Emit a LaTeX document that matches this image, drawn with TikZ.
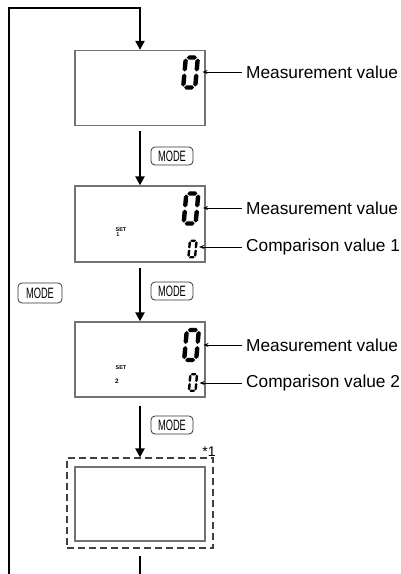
\documentclass[tikz,border=0pt]{standalone}
\usepackage{fontspec}
\setmainfont{Liberation Sans}
\newfontfamily\narrowsans[FakeStretch=0.62]{Liberation Sans}
\usetikzlibrary{arrows.meta}
\tikzset{
  lcd/.style={draw=black!55, line width=1.3pt, minimum width=130pt, minimum height=75pt, inner sep=0pt},
  modekey/.style={draw=black!80, rounded corners=4pt, line width=0.8pt, minimum width=42pt, minimum height=18pt, inner sep=0pt, font=\narrowsans\fontsize{15}{15}\selectfont},
  flow/.style={line width=2.2pt, -{Triangle[length=9pt,width=9pt]}},
  pointer/.style={line width=0.9pt, -{Stealth[length=5pt,width=4pt]}, shorten <=4pt},
  callout/.style={anchor=west, inner sep=0pt, font=\fontsize{17.3}{17.3}\selectfont},
  settag/.style={inner sep=0pt, font=\bfseries\fontsize{5.5}{5.5}\selectfont},
  digitzero/.pic={
    % top and bottom bars
    \foreach \sy in {-1,1}
      \fill[xslant=0.09] (-5,15*\sy) -- (-3,15*\sy-2.2) -- (3,15*\sy-2.2) -- (5,15*\sy) -- (3,15*\sy+2.2) -- (-3,15*\sy+2.2) -- cycle;
    % side bars
    \foreach \sx in {-1,1}
      \foreach \sy in {-1,1}
        \fill[xslant=0.09] (6*\sx,14*\sy) -- (6*\sx+2.2,12*\sy) -- (6*\sx+2.2,3*\sy) -- (6*\sx,\sy) -- (6*\sx-2.2,3*\sy) -- (6*\sx-2.2,12*\sy) -- cycle;
    \coordinate (-tip) at (12,0);
  }
}
\begin{document}
\begin{tikzpicture}[x=1pt, y=-1pt]
  \useasboundingbox (0,0) rectangle (401,574);

  % Displays (centre column)
  \node [lcd] (disp1) at (140,88) {};
  \node [lcd, minimum height=76pt] (disp2) at (140,224) {};
  \node [lcd] (disp3) at (140,359.5) {};
  \node [draw=black!75, dash pattern=on 7pt off 4pt, line width=1.2pt, minimum width=146pt, minimum height=90pt, inner sep=0pt] (outer) at (140,503) {};
  \node [lcd, minimum height=74pt] (disp4) at (140,504) {};
  \node [inner sep=0pt, font=\fontsize{14}{14}\selectfont] (note1) at (209,452) {*1};

  % Digits
  \pic (dA) at (190.5,72.5) {digitzero};
  \pic (dB) at (191,208.5) {digitzero};
  \pic [scale=0.55] (dC) at (192.5,249) {digitzero};
  \pic (dD) at (191.5,345) {digitzero};
  \pic [scale=0.55] (dE) at (193,382.5) {digitzero};

  % SET marks
  \node [settag] (set1) at (121,229.5) {SET};
  \node [settag] (num1) at (118,234.5) {1};
  \node [settag] (set2) at (121,367.5) {SET};
  \node [settag, font=\bfseries\fontsize{6.5}{6.5}\selectfont] (num2) at (117,381.5) {2};

  % Keys
  \node [modekey] (key1) at (172,156) {MODE};
  \node [modekey] (key2) at (172,291) {MODE};
  \node [modekey] (key3) at (172,425) {MODE};
  \node [modekey, minimum width=44pt, minimum height=20pt] (key0) at (40,293) {MODE};

  % Flow
  \coordinate (loopfoot) at (9,574);
  \coordinate (tailfoot) at (140,574);
  \draw [flow] (loopfoot) |- ([yshift=42pt]disp1.north) -- (disp1.north);
  \draw [flow, shorten <=5pt] (disp1.south) -- (disp2.north);
  \draw [flow, shorten <=5pt] (disp2.south) -- (disp3.north);
  \draw [flow, shorten <=8pt] (disp3.south) -- (outer.north);
  \draw [line width=2.2pt, shorten <=7pt] (outer.south) -- (tailfoot);

  % Labels
  \node [callout] (lblA) at (246,72) {Measurement value};
  \node [callout] (lblB) at (246,208) {Measurement value};
  \node [callout] (lblC) at (246,247) {Comparison value 1};
  \node [callout] (lblD) at (246,345) {Measurement value};
  \node [callout] (lblE) at (246,383) {Comparison value 2};
  \draw [pointer] (lblA.west) -- (lblA.west -| dA-tip);
  \draw [pointer] (lblB.west) -- (lblB.west -| dB-tip);
  \draw [pointer] (lblC.west) -- (lblC.west -| dC-tip);
  \draw [pointer] (lblD.west) -- (lblD.west -| dD-tip);
  \draw [pointer] (lblE.west) -- (lblE.west -| dE-tip);
\end{tikzpicture}
\end{document}
